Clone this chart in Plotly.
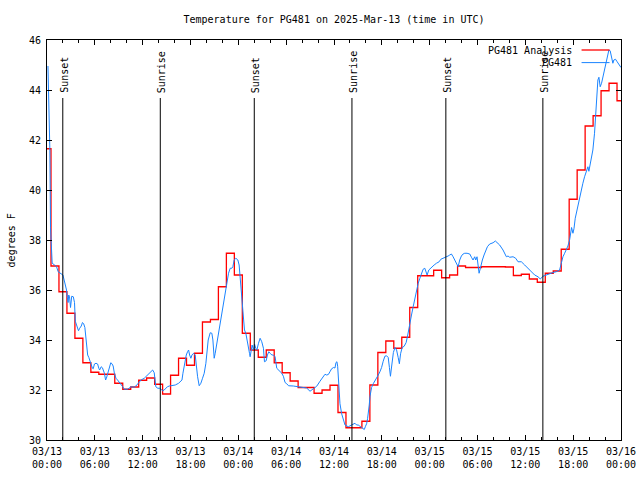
import pandas as pd
import plotly.graph_objects as go

# ---------------- data ----------------
START = "2025-03-13 00:00"
TITLE = "Temperature for PG481 on 2025-Mar-13 (time in UTC)"
Y_LABEL = "degrees F"
SERIES_NAMES = ["PG481 Analysis", "PG481"]

# Hourly analysis (hours 0..72 after START)
analysis_hours = list(range(73))
analysis_temps = [
    41.65, 36.96, 35.93, 35.07, 34.07, 33.09, 32.71, 32.63, 32.63, 32.27,
    32.03, 32.12, 32.39, 32.48, 32.23, 31.84, 32.59, 33.27, 32.99, 33.47,
    34.72, 34.82, 36.13, 37.47, 36.60, 34.27, 33.60, 33.31, 33.60, 33.09,
    32.69, 32.36, 32.10, 32.10, 31.87, 32.00, 32.19, 31.10, 30.49, 30.49,
    30.75, 32.20, 33.50, 33.96, 33.67, 34.11, 35.30, 36.57, 36.57, 36.79,
    36.49, 36.60, 36.96, 36.90, 36.90, 36.93, 36.93, 36.93, 36.92, 36.58,
    36.63, 36.44, 36.31, 36.67, 36.76, 37.63, 39.63, 40.80, 42.56, 42.97,
    43.97, 44.27, 43.57,
]

# Observations (hours after START, temperature)
obs_hours = [
    0.12, 0.2, 0.28, 0.36, 0.44, 0.55, 0.65, 0.95, 1.2, 1.4, 1.7, 2.0, 2.15, 2.3, 2.45,
    2.55, 2.65, 2.72, 2.82, 2.95, 3.1, 3.3, 3.45, 3.55, 3.7, 3.85, 3.95, 4.1, 4.3, 4.45,
    4.6, 4.75, 4.9, 5.0, 5.1, 5.25, 5.4, 5.55, 5.7, 5.8, 5.95, 6.15, 6.35, 6.5, 6.6,
    6.8, 6.95, 7.2, 7.35, 7.45, 7.6, 7.8, 8.0, 8.15, 8.3, 8.45, 8.65, 8.85, 9.05, 9.3,
    9.5, 9.7, 10.1, 10.55, 10.75, 10.95, 11.15, 11.4, 11.6, 11.8, 12.2, 12.4, 12.6, 12.85, 13.05,
    13.25, 13.45, 13.65, 13.9, 14.1, 14.3, 14.5, 14.7, 14.9, 15.1, 15.35, 15.55, 15.75, 16.09, 16.51,
    16.93, 17.05, 17.22, 17.47, 17.63, 17.76, 17.89, 18.05, 18.18, 18.39, 18.59, 18.72, 18.89, 19.09, 19.3,
    19.51, 19.72, 19.93, 20.05, 20.22, 20.47, 20.68, 20.81, 20.97, 21.1, 21.31, 21.52, 21.72, 21.93, 22.14,
    22.35, 22.56, 22.77, 22.98, 23.18, 23.31, 23.48, 23.69, 23.94, 24.1, 24.23, 24.35, 24.52, 24.65, 24.77,
    24.94, 25.07, 25.19, 25.27, 25.4, 25.48, 25.61, 25.73, 25.9, 26.03, 26.19, 26.32, 26.53, 26.73, 26.94,
    27.15, 27.28, 27.49, 27.65, 27.82, 27.99, 28.2, 28.4, 28.61, 28.82, 29.03, 29.45, 29.65, 29.86, 30.07,
    30.3, 30.9, 31.5, 32.16, 32.57, 32.99, 33.41, 33.83, 34.24, 34.66, 34.87, 35.08, 35.29, 35.49, 35.7,
    35.95, 36.12, 36.25, 36.37, 36.46, 36.6, 36.75, 36.96, 37.17, 37.38, 37.79, 38.0, 38.21, 38.42, 38.63,
    38.84, 39.04, 39.25, 39.46, 39.67, 39.8, 39.95, 40.09, 40.21, 40.3, 40.42, 40.51, 40.71, 40.92, 41.13,
    41.34, 41.55, 41.76, 41.97, 42.17, 42.38, 42.59, 42.8, 42.95, 43.08, 43.25, 43.45, 43.65, 43.85, 44.05,
    44.2, 44.35, 44.55, 44.8, 45.05, 45.25, 45.45, 45.72, 45.93, 46.14, 46.35, 46.56, 46.77, 46.98, 47.18,
    47.39, 47.52, 47.68, 47.89, 48.1, 48.31, 48.56, 48.85, 49.19, 49.4, 49.69, 50.11, 50.31, 50.52, 50.73,
    50.94, 51.15, 51.36, 51.57, 51.77, 51.98, 52.19, 52.4, 52.69, 53.03, 53.24, 53.44, 53.65, 53.78, 53.94,
    54.07, 54.2, 54.36, 54.49, 54.61, 54.82, 55.03, 55.24, 55.53, 55.95, 56.24, 56.45, 56.78, 57.2, 57.41,
    57.62, 57.83, 58.04, 58.46, 58.79, 59.08, 59.5, 59.92, 60.34, 60.75, 61.17, 61.59, 61.88, 62.21, 62.63,
    63.05, 63.47, 63.88, 64.3, 64.51, 64.72, 64.93, 65.13, 65.34, 65.55, 65.68, 65.8, 65.97, 66.1, 66.26,
    66.39, 66.6, 66.8, 67.01, 67.22, 67.43, 67.64, 67.85, 67.97, 68.14, 68.31, 68.47, 68.68, 68.81, 68.97,
    69.1, 69.23, 69.39, 69.56, 69.73, 69.93, 70.14, 70.35, 70.48, 70.64, 70.77, 70.98, 71.1, 71.31, 71.52,
    71.69, 71.94, 72.0,
]
obs_temps = [
    44.96, 44.13, 43.1, 41.6, 38.5, 37.2, 37.07, 37.0, 36.93, 36.73, 36.67, 36.6, 36.4, 36.2, 36.0,
    35.7, 35.5, 35.8, 35.75, 35.3, 35.75, 35.73, 35.5, 34.75, 34.6, 34.5, 34.37, 34.47, 34.56, 34.7,
    34.65, 34.5, 34.07, 33.73, 33.4, 33.3, 33.13, 33.0, 32.87, 32.85, 33.04, 33.07, 33.04, 32.87, 32.8,
    32.93, 32.89, 32.67, 32.4, 32.47, 32.67, 32.87, 33.09, 33.05, 32.96, 32.67, 32.47, 32.4, 32.33, 32.24,
    32.13, 32.03, 32.03, 32.13, 32.13, 32.11, 32.16, 32.27, 32.33, 32.4, 32.47, 32.53, 32.6, 32.67, 32.73,
    32.8, 32.69, 32.13, 32.07, 32.07, 32.03, 31.97, 32.0, 32.07, 32.13, 32.16, 32.17, 32.19, 32.2, 32.27,
    32.4, 32.67, 33.0, 33.4, 33.53, 33.6, 33.4, 33.27, 33.4, 33.47, 33.4, 32.93, 32.53, 32.17, 32.27,
    32.47, 32.67, 33.07, 33.6, 34.0, 34.29, 34.27, 34.0, 33.27, 33.47, 33.87, 34.13, 34.53, 34.93, 35.33,
    35.73, 36.27, 36.67, 36.87, 36.87, 36.93, 37.2, 37.27, 37.2, 37.0, 36.53, 35.87, 35.33, 34.87, 34.4,
    34.27, 34.0, 33.73, 33.6, 33.47, 33.33, 33.6, 33.8, 33.6, 33.84, 33.67, 33.6, 33.87, 34.07, 33.93,
    33.67, 33.13, 33.17, 33.4, 33.53, 33.47, 33.4, 33.4, 33.33, 32.87, 32.8, 32.67, 32.55, 32.3, 32.25,
    32.17, 32.16, 32.14, 32.12, 32.08, 31.95, 32.05, 32.15, 32.35, 32.55, 32.63, 32.6, 32.62, 32.73, 32.85,
    32.9, 32.88, 33.1, 33.13, 32.95, 32.0, 31.45, 31.05, 30.8, 30.6, 30.53, 30.56, 30.6, 30.64, 30.67,
    30.6, 30.6, 30.55, 30.5, 30.43, 30.42, 30.55, 30.65, 30.85, 31.27, 31.4, 31.73, 32.1, 32.25, 32.35,
    32.45, 32.6, 32.73, 32.9, 33.15, 33.35, 33.37, 33.3, 32.9, 32.55, 33.0, 33.5, 33.7, 33.6, 33.3,
    33.05, 33.45, 33.7, 33.75, 33.9, 34.2, 34.6, 35.0, 35.33, 35.67, 36.0, 36.27, 36.47, 36.67, 36.83,
    36.87, 36.73, 36.6, 36.8, 36.87, 36.93, 37.0, 37.07, 37.13, 37.23, 37.27, 37.31, 37.36, 37.4, 37.44,
    37.33, 37.2, 37.07, 36.93, 37.2, 37.36, 37.44, 37.47, 37.47, 37.44, 37.31, 37.2, 37.33, 37.2, 37.33,
    36.93, 36.67, 36.87, 37.07, 37.2, 37.4, 37.6, 37.73, 37.84, 37.89, 37.96, 37.89, 37.8, 37.6, 37.47,
    37.33, 37.36, 37.31, 37.33, 37.27, 37.13, 37.13, 37.0, 36.87, 36.73, 36.6, 36.53, 36.44, 36.55, 36.6,
    36.67, 36.7, 36.73, 36.8, 37.07, 37.33, 37.47, 37.6, 37.76, 38.0, 38.4, 38.5, 38.27, 38.45, 38.87,
    39.07, 39.33, 39.73, 40.0, 40.27, 40.53, 40.73, 40.93, 40.75, 41.07, 41.33, 41.6, 42.27, 43.07, 44.0,
    44.4, 44.51, 44.13, 44.27, 44.53, 44.8, 45.07, 45.47, 45.6, 45.57, 45.4, 45.07, 45.2, 45.23, 45.13,
    45.04, 44.93, 44.9,
]

# Sun events (hours after START)
event_hours = [1.98, 14.21, 26.0, 38.25, 50.03, 62.2]
event_labels = ["Sunset", "Sunrise", "Sunset", "Sunrise", "Sunset", "Sunrise"]

Y_MIN, Y_MAX, Y_STEP = 30, 46, 2
EVENT_TOP = 43.68

# ---------------- figure ----------------
FONT = "DejaVu Sans Mono"
RED = "#ff0000"
BLUE = "#1a84ff"

base = pd.Timestamp(START)
def to_time(hours):
    return [base + pd.Timedelta(hours=h) for h in hours]

fig = go.Figure()

fig.add_trace(go.Scatter(
    x=to_time(analysis_hours), y=analysis_temps, mode="lines",
    line=dict(color=RED, width=1.3, shape="hvh"), name=SERIES_NAMES[0],
    showlegend=False))
fig.add_trace(go.Scatter(
    x=to_time(obs_hours), y=obs_temps, mode="lines",
    line=dict(color=BLUE, width=1), name=SERIES_NAMES[1], showlegend=False))

ex, ey = [], []
for t in to_time(event_hours):
    ex += [t, t, None]
    ey += [Y_MIN, EVENT_TOP, None]
fig.add_trace(go.Scatter(x=ex, y=ey, mode="lines",
                         line=dict(color="black", width=1), showlegend=False,
                         hoverinfo="skip"))

annotations = []
for t, lab in zip(to_time(event_hours), event_labels):
    annotations.append(dict(x=t, y=EVENT_TOP, xref="x", yref="y", text=lab,
                            textangle=-90, showarrow=False, xanchor="center",
                            yanchor="bottom", yshift=3, xshift=1,
                            font=dict(family=FONT, size=10, color="black")))

# legend (gnuplot style: text then sample on the right)
leg_y = [0.975, 0.9435]
for name, yy in zip(SERIES_NAMES, leg_y):
    annotations.append(dict(x=0.9174, y=yy, xref="paper", yref="paper", text=name,
                            showarrow=False, xanchor="right", yanchor="middle",
                            font=dict(family=FONT, size=10, color="black")))
shapes = []
for yy, col, w in zip(leg_y, [RED, BLUE], [1.3, 1]):
    shapes.append(dict(type="line", xref="paper", yref="paper", x0=0.9313, x1=0.98,
                       y0=yy, y1=yy, line=dict(color=col, width=w)))

annotations.append(dict(x=-0.062, y=0.5, xref="paper", yref="paper", text=Y_LABEL,
                        textangle=-90, showarrow=False, xanchor="center", yanchor="middle",
                        font=dict(family=FONT, size=10, color="black")))

fig.update_layout(
    width=640, height=480,
    margin=dict(l=47, r=19, t=40, b=40, autoexpand=False),
    paper_bgcolor="white", plot_bgcolor="white",
    title=dict(text=TITLE, x=0.5, xref="paper", xanchor="center", y=1 - 19 / 480,
               yanchor="middle", automargin=False,
               font=dict(family=FONT, size=10, color="black")),
    annotations=annotations, shapes=shapes,
    font=dict(family=FONT, size=10, color="black"),
)
fig.update_xaxes(
    type="date", range=[base, base + pd.Timedelta(hours=72)], automargin=False,
    tick0=base, dtick=6 * 3600 * 1000, tickformat="%m/%d<br>%H:%M",
    ticks="inside", ticklen=5, tickcolor="black", tickwidth=1, ticklabelstandoff=2,
    minor=dict(dtick=2 * 3600 * 1000, ticks="inside", ticklen=3, tickcolor="black"),
    showline=True, linecolor="black", linewidth=1, mirror="allticks",
    showgrid=False, zeroline=False,
    tickfont=dict(family=FONT, size=10, color="black"),
)
fig.update_yaxes(
    range=[Y_MIN, Y_MAX], dtick=Y_STEP, tick0=Y_MIN, automargin=False,
    ticks="inside", ticklen=5, tickcolor="black", tickwidth=1, ticklabelstandoff=3,
    showline=True, linecolor="black", linewidth=1, mirror="allticks",
    showgrid=False, zeroline=False,
    tickfont=dict(family=FONT, size=10, color="black"),
)

fig.write_html("out.html", config={"displayModeBar": False},
               post_script="document.body.style.margin='0';document.body.style.padding='0';")
